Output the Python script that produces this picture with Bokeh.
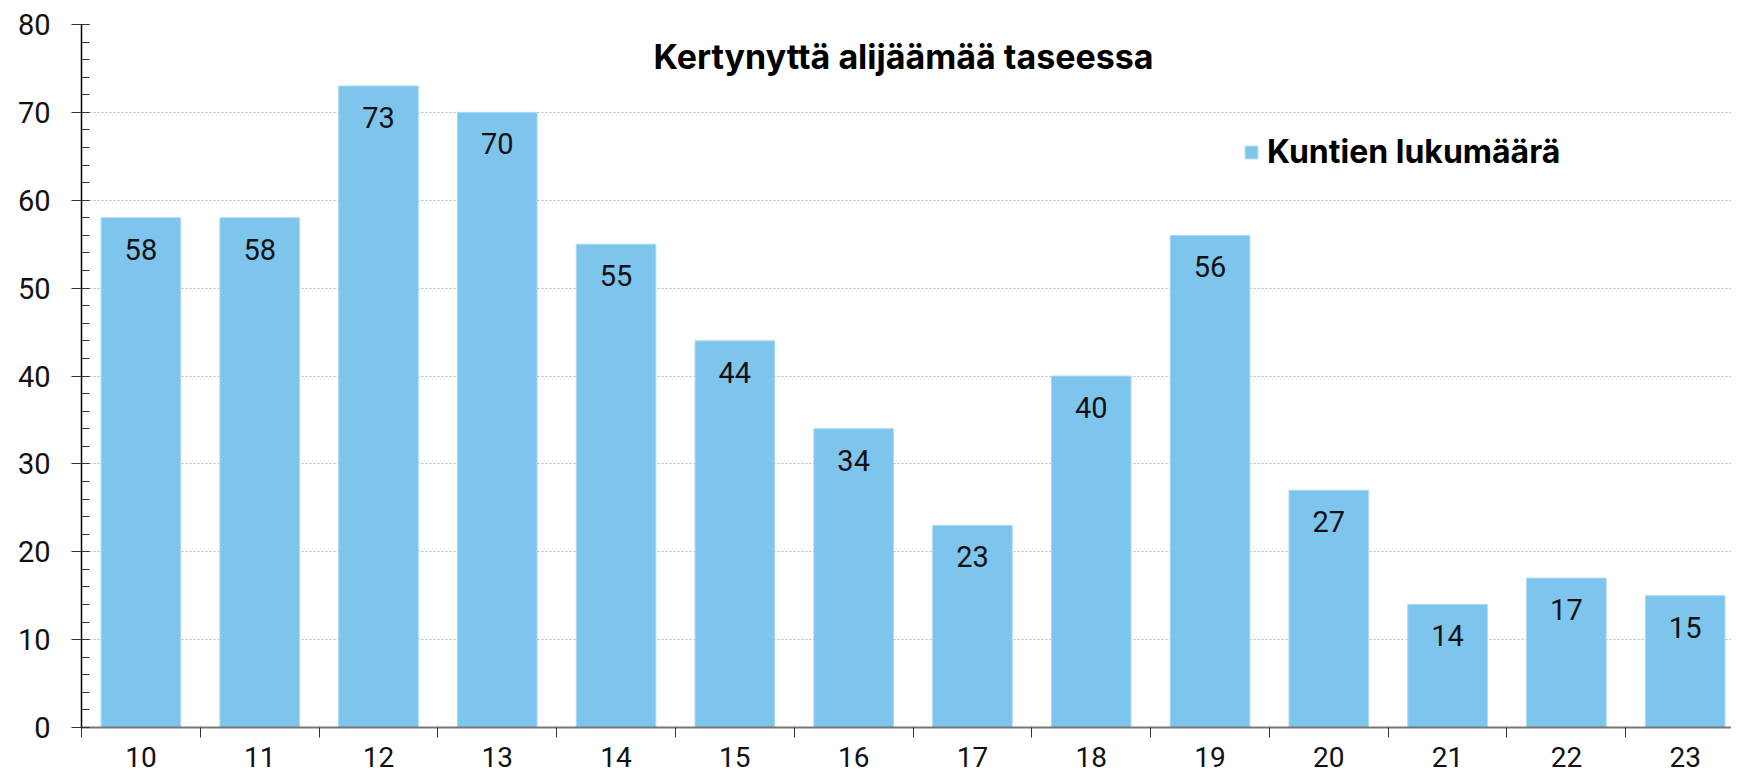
from bokeh.plotting import figure
from bokeh.models import (Range1d, FixedTicker, SingleIntervalTicker, ColumnDataSource,
                          LabelSet, Label, Legend, LegendItem)
from bokeh.core.properties import value
from bokeh.embed import file_html
from bokeh.resources import INLINE

# ---- data ----
years = ["10", "11", "12", "13", "14", "15", "16", "17", "18", "19", "20", "21", "22", "23"]
counts = [58, 58, 73, 70, 55, 44, 34, 23, 40, 56, 27, 14, 17, 15]
title_text = "Kertynyttä alijäämää taseessa"
series_name = "Kuntien lukumäärä"

BAR_COLOR = "#7EC5EE"
FONT = "Roboto"
HEAVY = "Inter"

idx = list(range(len(years)))
src = ColumnDataSource(dict(x=idx, y=counts, lbl=[str(v) for v in counts]))

p = figure(width=1731, height=776, output_backend="svg", toolbar_location=None,
           x_range=Range1d(-0.5, len(years) - 0.61), y_range=Range1d(0, 80),
           min_border_left=81, min_border_right=0, min_border_top=24, min_border_bottom=49)
p.outline_line_color = None
p.background_fill_color = "white"
p.border_fill_color = "white"

r = p.vbar(x="x", top="y", width=0.67, source=src, fill_color=BAR_COLOR,
           line_color="#A9D8F3", line_width=1)

labels = LabelSet(x="x", y="y", text="lbl", source=src, text_align="center",
                  text_baseline="alphabetic", y_offset=-42, text_font=value(FONT),
                  text_font_size="29px", text_color="#111111")
p.add_layout(labels)

# title inside the plot
p.add_layout(Label(x=6.42, y=76.4, text=title_text, text_align="center",
                   text_baseline="alphabetic", text_font=HEAVY, text_font_style="bold",
                   text_font_size="34px", text_color="black"))

# legend
legend = Legend(items=[LegendItem(label=series_name, renderers=[r])],
                location=(1162, 556), orientation="vertical")
legend.border_line_color = None
legend.background_fill_alpha = 0
legend.padding = 0
legend.margin = 0
legend.glyph_width = 16
legend.glyph_height = 16
legend.label_standoff = 8
legend.label_text_font = HEAVY
legend.label_text_font_style = "bold"
legend.label_text_font_size = "32px"
legend.label_text_color = "black"
p.add_layout(legend)

# x axis: labels at centres, boundary ticks as minor ticks
xa = p.xaxis[0]
xa.ticker = FixedTicker(ticks=idx, minor_ticks=[i - 0.5 for i in idx] + [len(years) - 0.5])
xa.major_label_overrides = {i: y for i, y in zip(idx, years)}
xa.major_tick_out = 0
xa.major_tick_in = 0
xa.minor_tick_out = 10
xa.minor_tick_in = 0
xa.minor_tick_line_color = "#333333"
xa.axis_line_color = "#777777"
xa.axis_line_width = 2
xa.major_label_standoff = 9
xa.major_label_text_font = FONT
xa.major_label_text_font_size = "28px"
xa.major_label_text_color = "#111111"

ya = p.yaxis[0]
ya.ticker = SingleIntervalTicker(interval=10, num_minor_ticks=5)
ya.axis_line_color = "black"
ya.axis_line_width = 1.5
ya.major_tick_out = 10
ya.major_tick_in = 8
ya.major_tick_line_color = "#333333"
ya.minor_tick_out = 0
ya.minor_tick_in = 8
ya.minor_tick_line_color = "#333333"
ya.major_label_standoff = 21
ya.major_label_text_font = FONT
ya.major_label_text_font_size = "29px"
ya.major_label_text_color = "#111111"

p.xgrid.visible = False
p.ygrid.grid_line_color = "#BBBBBB"
p.ygrid.grid_line_dash = "2 2"
p.ygrid.grid_line_width = 1

open("out.html", "w").write(file_html(p, INLINE))
